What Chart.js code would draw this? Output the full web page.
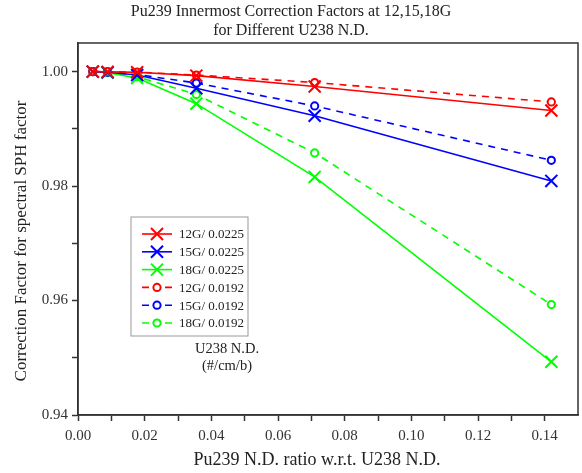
<!DOCTYPE html>
<html>
<head>
<meta charset="utf-8">
<script src="https://cdn.jsdelivr.net/npm/chart.js@4"></script>
<style>
  html, body { margin: 0; padding: 0; background: #fff; }
  #wrap { width: 582px; height: 473px; }
</style>
</head>
<body>
<div id="wrap"><canvas id="myChart" width="582" height="473"></canvas></div>
<script>
// Pu239 N.D. ratio w.r.t. U238 N.D.
var ratios = [0.0044375, 0.008875, 0.01775, 0.0355, 0.071, 0.142];

// U238 N.D. = 0.0225
var g12_0225 = [1.0000, 0.99995, 0.9999, 0.9993, 0.9974, 0.9932];
var g15_0225 = [1.0000, 0.9999, 0.9994, 0.9971, 0.9923, 0.9809];
var g18_0225 = [1.0000, 0.9998, 0.9989, 0.9944, 0.9816, 0.9493];
// U238 N.D. = 0.0192
var g12_0192 = [1.0000, 1.0000, 0.9999, 0.9994, 0.9981, 0.9947];
var g15_0192 = [1.0000, 0.9999, 0.9995, 0.9980, 0.9940, 0.9845];
var g18_0192 = [1.0000, 0.9998, 0.9991, 0.9960, 0.9858, 0.9593];

var seriesNames = ["12G/ 0.0225", "15G/ 0.0225", "18G/ 0.0225", "12G/ 0.0192", "15G/ 0.0192", "18G/ 0.0192"];
var seriesValues = [g12_0225, g15_0225, g18_0225, g12_0192, g15_0192, g18_0192];
var seriesColors = ["#ff0000", "#0000ff", "#00ff00", "#ff0000", "#0000ff", "#00ff00"];

var xTickLabels = ["0.00", "0.02", "0.04", "0.06", "0.08", "0.10", "0.12", "0.14"];
var yTickLabels = ["0.94", "0.96", "0.98", "1.00"];

var serif = "'Liberation Serif', 'DejaVu Serif', serif";

var datasets = seriesValues.map(function (vals, i) {
  var dashed = i >= 3;
  return {
    label: seriesNames[i],
    data: ratios.map(function (x, j) { return { x: x, y: vals[j] }; }),
    borderColor: seriesColors[i],
    backgroundColor: "#ffffff",
    borderWidth: 1.6,
    borderDash: dashed ? [7, 6] : [],
    pointStyle: dashed ? "circle" : "crossRot",
    pointRadius: dashed ? 3.6 : 8.5,
    pointBorderWidth: 2,
    pointBackgroundColor: "#ffffff",
    pointBorderColor: seriesColors[i],
    showLine: true,
    fill: false,
    tension: 0
  };
});

// frame, titles, legend box and note
var extras = {
  id: "extras",
  afterDraw: function (chart) {
    var ctx = chart.ctx;
    var a = chart.chartArea;
    ctx.save();
    ctx.strokeStyle = "#333";
    ctx.lineWidth = 1.5;
    ctx.strokeRect(a.left, a.top, a.right - a.left, a.bottom - a.top);

    ctx.fillStyle = "#222";
    ctx.textAlign = "center";
    ctx.textBaseline = "middle";
    ctx.font = "16px " + serif;
    ctx.fillText("Pu239 Innermost Correction Factors at 12,15,18G", 291, 12);
    ctx.fillText("for Different U238 N.D.", 291, 31);
    ctx.font = "18px " + serif;
    ctx.fillText("Pu239 N.D. ratio w.r.t. U238 N.D.", 317, 460);

    ctx.save();
    ctx.translate(22, 241);
    ctx.rotate(-Math.PI / 2);
    ctx.font = "17px " + serif;
    ctx.fillText("Correction Factor for spectral SPH factor", 0, 0);
    ctx.restore();

    ctx.font = "14.5px " + serif;
    ctx.fillText("U238 N.D.", 227, 349);
    ctx.fillText("(#/cm/b)", 227, 366);

    // legend
    var bx = 131, by = 217, bw = 117, bh = 119;
    ctx.strokeStyle = "#999";
    ctx.lineWidth = 1;
    ctx.strokeRect(bx, by, bw, bh);
    ctx.font = "13px " + serif;
    ctx.textAlign = "left";
    chart.data.datasets.forEach(function (ds, i) {
      var y = 234 + i * 17.8;
      ctx.strokeStyle = ds.borderColor;
      ctx.lineWidth = 1.6;
      ctx.setLineDash([]);
      ctx.beginPath();
      if (i >= 3) {
        ctx.moveTo(142, y); ctx.lineTo(149, y);
        ctx.moveTo(165, y); ctx.lineTo(172, y);
      } else {
        ctx.moveTo(142, y); ctx.lineTo(172, y);
      }
      ctx.stroke();
      ctx.lineWidth = 2;
      ctx.fillStyle = "#ffffff";
      Chart.helpers.drawPoint(ctx, {
        pointStyle: ds.pointStyle,
        radius: ds.pointRadius,
        borderWidth: 2
      }, 157, y);
      ctx.fillStyle = "#222";
      ctx.fillText(ds.label, 179, y + 1);
    });
    ctx.restore();
  }
};

new Chart("myChart", {
  type: "scatter",
  data: { datasets: datasets },
  options: {
    responsive: false,
    animation: false,
    layout: { autoPadding: false, padding: { left: 0, right: 4, top: 43, bottom: 0 } },
    plugins: {
      legend: { display: false },
      title: { display: false },
      tooltip: { enabled: false }
    },
    scales: {
      x: {
        type: "linear",
        min: 0,
        max: 0.15,
        afterFit: function (s) { s.height = 58; s.paddingRight = 0; s.paddingLeft = 0; },
        afterBuildTicks: function (s) {
          var t = [];
          for (var k = 0; k <= 14; k++) t.push({ value: k / 100 });
          s.ticks = t;
        },
        ticks: {
          autoSkip: false,
          maxRotation: 0,
          padding: 6,
          color: "#333",
          font: { family: serif, size: 15 },
          callback: function (v, idx) {
            return idx % 2 === 0 ? xTickLabels[idx / 2] : "";
          }
        },
        grid: { drawOnChartArea: false, tickLength: 6, tickWidth: 1.5, tickColor: "#333" },
        border: { display: true, color: "#333", width: 1.5 }
      },
      y: {
        type: "linear",
        min: 0.94,
        max: 1.005,
        afterFit: function (s) { s.width = 78; s.paddingTop = 0; s.paddingBottom = 0; },
        afterBuildTicks: function (s) {
          var t = [];
          for (var k = 0; k <= 6; k++) t.push({ value: 0.94 + k / 100 });
          s.ticks = t;
        },
        ticks: {
          autoSkip: false,
          padding: 4,
          color: "#333",
          font: { family: serif, size: 15 },
          callback: function (v, idx) {
            return idx % 2 === 0 ? yTickLabels[idx / 2] : "";
          }
        },
        grid: { drawOnChartArea: false, tickLength: 6, tickWidth: 1.5, tickColor: "#333" },
        border: { display: true, color: "#333", width: 1.5 }
      }
    }
  },
  plugins: [extras]
});
</script>
</body>
</html>
